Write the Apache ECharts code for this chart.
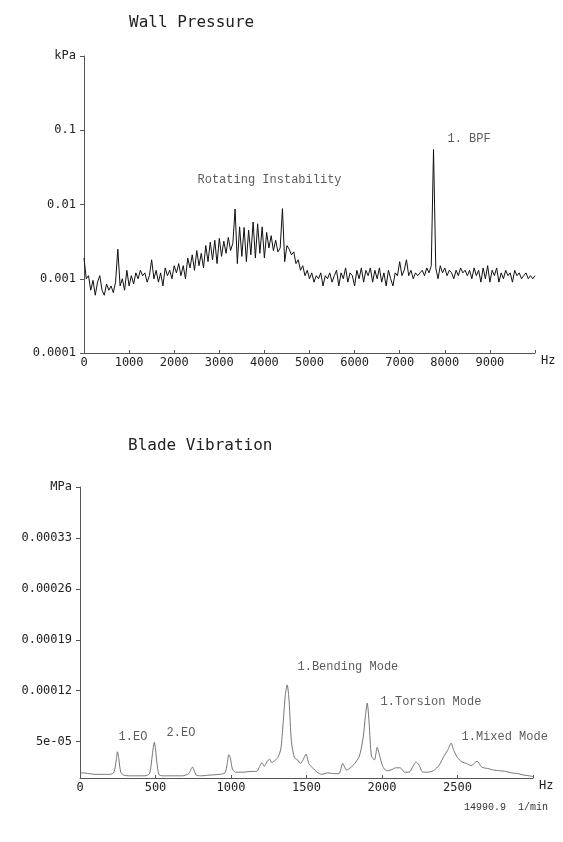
<!DOCTYPE html>
<html>
<head>
<meta charset="utf-8">
<script src="https://cdn.jsdelivr.net/npm/echarts@6/dist/echarts.min.js"></script>
<style>
html,body{margin:0;padding:0;background:#fff;}
#chart{width:563px;height:842px;}
</style>
</head>
<body>
<div id="chart"></div>
<script>
// ---------- Wall Pressure (kPa) ----------
const wallStepHz = 50;
const wallAmp = [
0.0019,0.0010,0.0011,0.0007,0.00095,0.0006,0.0009,0.0011,0.0007,0.0006,
0.00085,0.0007,0.0008,0.00065,0.0009,0.0025,0.0008,0.0010,0.0007,0.0013,
0.0008,0.0011,0.00085,0.0012,0.0010,0.0013,0.0011,0.0012,0.0009,0.0011,
0.0018,0.0010,0.0013,0.0009,0.0012,0.0008,0.0014,0.0011,0.0013,0.0010,
0.0015,0.0012,0.0016,0.0011,0.0015,0.0010,0.0019,0.0014,0.0021,0.0013,
0.0024,0.0015,0.0022,0.0014,0.0028,0.0017,0.0031,0.0018,0.0033,0.0016,
0.0035,0.0020,0.0032,0.0022,0.0036,0.0024,0.0030,0.0087,0.0016,0.0050,
0.0020,0.0049,0.0017,0.0045,0.0021,0.0058,0.0019,0.0055,0.0022,0.0050,
0.0019,0.0042,0.0026,0.0038,0.0024,0.0033,0.0023,0.0026,0.0088,0.0017,
0.0028,0.0025,0.0021,0.0023,0.0016,0.0018,0.0013,0.0015,0.0011,0.0013,
0.0010,0.0012,0.0009,0.0011,0.0010,0.0012,0.0008,0.0011,0.0010,0.0012,
0.0009,0.0011,0.0013,0.0008,0.0012,0.0010,0.0014,0.0009,0.0012,0.0011,
0.0008,0.0013,0.0010,0.0014,0.0009,0.0013,0.0011,0.0014,0.0009,0.0013,
0.0010,0.0014,0.0009,0.0012,0.0008,0.0013,0.0010,0.0008,0.0012,0.0011,
0.0017,0.0011,0.0013,0.0018,0.0011,0.0013,0.0010,0.0012,0.0011,0.0012,
0.0013,0.0011,0.0014,0.0012,0.0015,0.055,0.0014,0.0010,0.0015,0.0012,
0.0014,0.0011,0.0013,0.0012,0.0010,0.0013,0.0011,0.0014,0.0012,0.0013,
0.0011,0.0013,0.0010,0.0014,0.0011,0.0013,0.0009,0.0014,0.0010,0.0015,
0.0009,0.0013,0.0011,0.0014,0.0009,0.0012,0.0010,0.0013,0.0011,0.0012,
0.0009,0.0013,0.0011,0.0012,0.0010,0.0011,0.0012,0.0010,0.0011,0.0010,
0.0011
];
const wallXTicks = [0,1000,2000,3000,4000,5000,6000,7000,8000,9000];
const wallYTicks = [0.0001,0.001,0.01,0.1,1];
const wallYLabels = ['0.0001','0.001','0.01','0.1','kPa'];
const wallNotes = ['Rotating Instability','1. BPF'];
const wallNoteX = [2506, 8049];
const wallNoteY = [0.0213, 0.0759];

// ---------- Blade Vibration (MPa) ----------
const bladeFreq = [0,20,60,100,150,200,225,240,248,256,270,290,330,380,430,460,475,485,492,500,
510,525,560,620,680,720,735,745,755,770,800,860,920,960,975,985,995,1010,1030,1080,
1130,1170,1190,1205,1220,1240,1255,1270,1290,1310,1330,1345,1360,1372,1385,1400,1420,1440,1460,1480,
1497,1515,1540,1570,1600,1640,1680,1715,1740,1765,1790,1820,1850,1875,1890,1902,1915,1930,1950,1968,
1985,2005,2030,2060,2090,2120,2150,2180,2205,2225,2245,2270,2300,2340,2380,2410,2435,2458,2475,2500,
2530,2560,2590,2630,2660,2700,2740,2780,2820,2860,2900,2940,2975,3000];
const bladeAmp = [0.7e-5,0.7e-5,0.6e-5,0.5e-5,0.5e-5,0.5e-5,0.8e-5,2.5e-5,3.6e-5,2.8e-5,
0.8e-5,0.4e-5,0.3e-5,0.3e-5,0.3e-5,0.6e-5,2.5e-5,4.2e-5,4.9e-5,4.0e-5,
2.0e-5,0.4e-5,0.3e-5,0.3e-5,0.3e-5,0.6e-5,1.2e-5,1.5e-5,1.1e-5,0.4e-5,
0.3e-5,0.4e-5,0.5e-5,0.7e-5,2.0e-5,3.2e-5,2.8e-5,1.2e-5,0.8e-5,0.8e-5,
0.9e-5,0.9e-5,1.6e-5,2.1e-5,1.6e-5,2.3e-5,2.6e-5,2.1e-5,2.4e-5,2.8e-5,
4.0e-5,7.5e-5,11.5e-5,12.8e-5,10.5e-5,5.0e-5,2.8e-5,2.5e-5,2.0e-5,2.6e-5,
3.3e-5,2.0e-5,1.4e-5,0.8e-5,0.5e-5,0.7e-5,0.6e-5,0.6e-5,2.0e-5,1.1e-5,
1.4e-5,2.0e-5,3.0e-5,5.5e-5,8.5e-5,10.3e-5,7.5e-5,3.0e-5,2.5e-5,4.2e-5,
3.0e-5,1.6e-5,1.0e-5,1.1e-5,1.4e-5,1.4e-5,0.8e-5,0.8e-5,1.6e-5,2.2e-5,
1.8e-5,0.8e-5,0.8e-5,1.0e-5,1.8e-5,3.0e-5,3.8e-5,4.8e-5,3.8e-5,2.8e-5,
2.2e-5,2.0e-5,1.7e-5,2.3e-5,1.5e-5,1.3e-5,1.1e-5,1.0e-5,0.9e-5,0.7e-5,
0.6e-5,0.4e-5,0.3e-5,0.2e-5];
const bladeXTicks = [0,500,1000,1500,2000,2500];
const bladeYTicks = [0.00005,0.00012,0.00019,0.00026,0.00033,0.0004];
const bladeYLabels = ['5e-05','0.00012','0.00019','0.00026','0.00033','MPa'];
const bladeNotes = ['1.EO','2.EO','1.Bending Mode','1.Torsion Mode','1.Mixed Mode'];
const bladeNoteX = [252, 570, 1437, 1987, 2523];
const bladeNoteY = [5.63e-5, 6.18e-5, 15.25e-5, 10.44e-5, 5.63e-5];

const speedText = '14990.9  1/min';

// ---------- build ----------
const wallData = wallAmp.map((v, i) => [i * wallStepHz, v]);
const bladeData = bladeFreq.map((f, i) => [f, bladeAmp[i]]);
const wallNoteData = wallNotes.map((n, i) => ({name: n, value: [wallNoteX[i], wallNoteY[i]]}));
const bladeNoteData = bladeNotes.map((n, i) => ({name: n, value: [bladeNoteX[i], bladeNoteY[i]]}));

const tickFont = 'DejaVu Sans Mono';
const noteFont = 'Liberation Mono';
const axisColor = '#555';

function noteSeries(xi, yi, data) {
  return {
    type: 'scatter', xAxisIndex: xi, yAxisIndex: yi, data: data,
    symbolSize: 1, itemStyle: {color: 'rgba(0,0,0,0)'}, silent: true,
    label: {show: true, position: 'right', distance: 0,
      formatter: p => p.name, fontFamily: noteFont, fontSize: 12, color: '#333'}
  };
}

const chart = echarts.init(document.getElementById('chart'), null, {renderer: 'canvas'});
chart.setOption({
  animation: false,
  backgroundColor: '#fff',
  title: [
    {text: 'Wall Pressure', left: 124, top: 10,
     textStyle: {fontFamily: tickFont, fontSize: 16, fontWeight: 'normal', color: '#222'}},
    {text: 'Blade Vibration', left: 123, top: 433,
     textStyle: {fontFamily: tickFont, fontSize: 16, fontWeight: 'normal', color: '#222'}}
  ],
  grid: [
    {left: 84, right: 28, top: 56, bottom: 489},
    {left: 80, right: 30, top: 487, bottom: 64}
  ],
  xAxis: [
    {type: 'value', gridIndex: 0, min: 0, max: 10000, interval: 1000,
     name: 'Hz', nameLocation: 'end', nameGap: 6,
     nameTextStyle: {fontFamily: tickFont, fontSize: 12, color: '#222', verticalAlign: 'top', padding: [2,0,0,0]},
     axisLine: {lineStyle: {color: axisColor, width: 1}},
     axisTick: {show: true, inside: true, length: 3, lineStyle: {color: axisColor}},
     splitLine: {show: false},
     axisLabel: {fontFamily: tickFont, fontSize: 12, color: '#222', margin: 4,
       formatter: v => wallXTicks.indexOf(v) >= 0 ? String(v) : ''}},
    {type: 'value', gridIndex: 1, min: 0, max: 3000, interval: 500,
     name: 'Hz', nameLocation: 'end', nameGap: 6,
     nameTextStyle: {fontFamily: tickFont, fontSize: 12, color: '#222', verticalAlign: 'top', padding: [2,0,0,0]},
     axisLine: {lineStyle: {color: axisColor, width: 1}},
     axisTick: {show: true, inside: true, length: 3, lineStyle: {color: axisColor}},
     splitLine: {show: false},
     axisLabel: {fontFamily: tickFont, fontSize: 12, color: '#222', margin: 4,
       formatter: v => bladeXTicks.indexOf(v) >= 0 ? String(v) : ''}}
  ],
  yAxis: [
    {type: 'log', gridIndex: 0, min: 0.0001, max: 1, logBase: 10,
     axisLine: {show: true, lineStyle: {color: axisColor, width: 1}},
     axisTick: {show: true, inside: false, length: 4, lineStyle: {color: axisColor}},
     splitLine: {show: false},
     axisLabel: {fontFamily: tickFont, fontSize: 12, color: '#222', margin: 8,
       formatter: v => {
         const i = wallYTicks.findIndex(t => Math.abs(Math.log10(t) - Math.log10(v)) < 0.01);
         return i >= 0 ? wallYLabels[i] : '';
       }}},
    {type: 'value', gridIndex: 1, min: 0, max: 0.0004,
     axisLine: {show: true, lineStyle: {color: axisColor, width: 1}},
     axisTick: {show: true, inside: false, length: 4, customValues: bladeYTicks, lineStyle: {color: axisColor}},
     splitLine: {show: false},
     axisLabel: {fontFamily: tickFont, fontSize: 12, color: '#222', margin: 8,
       customValues: bladeYTicks,
       formatter: v => {
         const i = bladeYTicks.findIndex(t => Math.abs(t - v) < 1e-7);
         return i >= 0 ? bladeYLabels[i] : '';
       }}}
  ],
  series: [
    {type: 'line', xAxisIndex: 0, yAxisIndex: 0, data: wallData, showSymbol: false,
     lineStyle: {color: '#111', width: 1}},
    {type: 'line', xAxisIndex: 1, yAxisIndex: 1, data: bladeData, showSymbol: false,
     smooth: 0.25, lineStyle: {color: '#666', width: 0.9}},
    noteSeries(0, 0, wallNoteData),
    noteSeries(1, 1, bladeNoteData)
  ],
  graphic: [
    {type: 'text', right: 15, top: 802,
     style: {text: speedText, fontFamily: noteFont, fontSize: 10, fill: '#333'}}
  ]
});
</script>
</body>
</html>
